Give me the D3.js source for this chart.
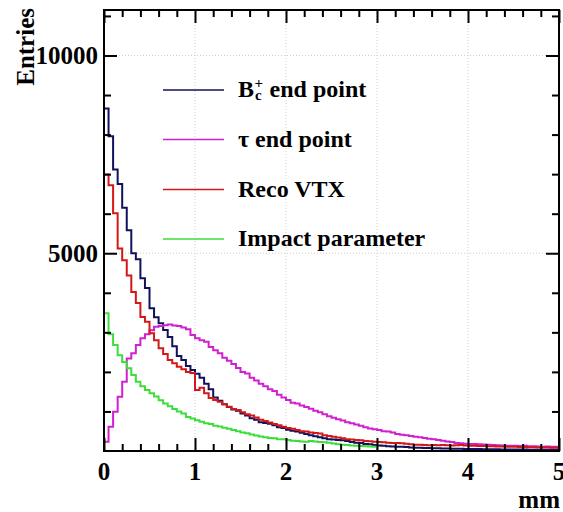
<!DOCTYPE html>
<html>
<head>
<meta charset="utf-8">
<script src="https://cdn.jsdelivr.net/npm/d3@7/dist/d3.min.js"></script>
<style>
  html, body { margin: 0; padding: 0; background: #fff; }
  svg { display: block; }
</style>
</head>
<body>
<svg id="chart" width="563" height="512"></svg>
<script>
// Histogram binning: 0.05 mm bins starting at 0
const binWidth = 0.05;

// Entries per bin
const bcEndPoint = [
  8660, 7960, 7120, 6750, 6150, 5580, 5000, 4850, 4370, 4120,
  3610, 3380, 3230, 3060, 2880, 2650, 2400, 2300, 2150, 2050,
  1950, 1850, 1700, 1560, 1350, 1270, 1180, 1110, 1050, 1020,
  950, 900, 830, 790, 730, 710, 690, 650, 600, 580,
  540, 510, 490, 460, 430, 400, 370, 350, 320, 300,
  290, 280, 270, 250, 230, 210, 200, 180, 170, 150,
  140, 130, 120, 115, 110, 105, 100, 90, 85, 80,
  78, 75, 70, 68, 65, 62, 60, 58, 55, 52,
  50, 50, 48, 46, 45, 44, 42, 40, 40, 38,
  37, 36, 35, 34, 33, 32, 31, 30, 30, 29
];

const tauEndPoint = [
  235, 610, 990, 1370, 1750, 2340, 2470, 2680, 2850, 2950,
  3055, 3140, 3160, 3180, 3200, 3170, 3160, 3120, 3080, 2930,
  2850, 2800, 2760, 2630, 2550, 2470, 2360, 2280, 2200, 2100,
  2000, 1960, 1850, 1780, 1700, 1640, 1560, 1520, 1420, 1350,
  1290, 1220, 1200, 1150, 1110, 1070, 1020, 980, 930, 880,
  840, 800, 770, 730, 700, 670, 640, 600, 570, 550,
  530, 500, 490, 470, 430, 410, 400, 380, 360, 350,
  330, 310, 295, 280, 260, 240, 230, 200, 195, 185,
  180, 175, 170, 165, 160, 150, 145, 140, 135, 135,
  130, 125, 130, 120, 118, 115, 110, 112, 108, 105
];

const recoVtx = [
  6990, 6720, 6010, 5120, 4820, 4440, 4020, 3740, 3390, 3265,
  2980, 2800, 2600, 2450, 2300, 2220, 2130, 2070, 2000, 1970,
  1540, 1600, 1460, 1340, 1290, 1245, 1180, 1120, 1060, 1035,
  980, 930, 900, 850, 790, 760, 720, 680, 650, 610,
  580, 560, 530, 500, 490, 470, 455, 440, 400, 380,
  360, 340, 320, 300, 290, 280, 270, 250, 245, 235,
  230, 220, 210, 200, 200, 195, 185, 170, 160, 155,
  150, 148, 152, 145, 150, 148, 140, 145, 150, 140,
  135, 130, 128, 125, 120, 118, 115, 112, 110, 108,
  105, 100, 100, 95, 92, 90, 88, 86, 85, 85
];

// Impact parameter histogram covers 0-3 mm only
const impactParameter = [
  3480, 2950, 2680, 2420, 2250, 2090, 1920, 1750, 1640, 1540,
  1460, 1380, 1280, 1200, 1130, 1060, 1000, 950, 860, 820,
  780, 740, 700, 680, 640, 620, 590, 560, 530, 500,
  470, 450, 420, 390, 365, 350, 330, 320, 300, 295,
  280, 260, 250, 240, 235, 250, 240, 230, 220, 210,
  190, 170, 160, 150, 140, 130, 125, 120, 115, 110
];

const seriesNames = ["B_c^+ end point", "\u03c4 end point", "Reco VTX", "Impact parameter"];
const seriesColors = ["#11115e", "#d020d0", "#d41818", "#3ddd3d"];
const seriesData = [bcEndPoint, tauEndPoint, recoVtx, impactParameter];

const xTickValues = [0, 1, 2, 3, 4, 5];
const xTickLabels = ["0", "1", "2", "3", "4", "5"];
const yTickValues = [5000, 10000];
const yTickLabels = ["5000", "10000"];
const xTitle = "mm";
const yTitle = "Entries";

const FONT = "'Liberation Serif', 'Times New Roman', Times, 'DejaVu Serif', serif";

const svg = d3.select("#chart");
const frame = { left: 104, right: 559, top: 10, bottom: 451 };

const x = d3.scaleLinear().domain([0, 5]).range([frame.left, frame.right]);
const y = d3.scaleLinear().domain([0, 11150]).range([frame.bottom, frame.top]);

function label(parent, size) {
  return parent.append("text")
    .style("font-family", FONT)
    .style("font-weight", "bold")
    .style("font-size", size + "px")
    .attr("fill", "#000");
}

// Grid lines (dotted)
const grid = svg.append("g").attr("class", "grid");
grid.selectAll("line.gx").data([1, 2, 3, 4]).enter().append("line")
  .attr("x1", d => x(d)).attr("x2", d => x(d))
  .attr("y1", frame.top).attr("y2", frame.bottom)
  .attr("stroke", "#cfcfcf").attr("stroke-width", 1).attr("stroke-dasharray", "1,2");
grid.selectAll("line.gy").data(yTickValues).enter().append("line")
  .attr("x1", frame.left).attr("x2", frame.right)
  .attr("y1", d => y(d)).attr("y2", d => y(d))
  .attr("stroke", "#cfcfcf").attr("stroke-width", 1).attr("stroke-dasharray", "1,2");

// Histogram outlines
const line = d3.line().x(d => x(d[0])).y(d => y(d[1])).curve(d3.curveStepAfter);
function histPoints(values) {
  const pts = [[0, 0]];
  values.forEach((v, i) => pts.push([i * binWidth, v]));
  const end = values.length * binWidth;
  pts.push([end, values[values.length - 1]]);
  pts.push([end, 0]);
  return pts;
}
const plot = svg.append("g").attr("class", "hists");
seriesData.forEach((vals, i) => {
  plot.append("path")
    .attr("d", line(histPoints(vals)))
    .attr("fill", "none")
    .attr("stroke", seriesColors[i])
    .attr("stroke-width", 2)
    .attr("stroke-linejoin", "miter");
});

// Axes: ticks inside the frame on all four sides
const minorX = d3.range(0, 5.0001, 0.2).map(v => +v.toFixed(2)).filter(v => !xTickValues.includes(v));
const minorY = d3.range(1000, 11001, 1000).filter(v => !yTickValues.includes(v));

function addAxis(axis, transform) {
  const g = svg.append("g").attr("transform", transform).call(axis);
  g.select(".domain").remove();
  g.selectAll(".tick line").attr("stroke", "#000").attr("stroke-width", 2);
  g.selectAll(".tick text").remove();
  return g;
}
addAxis(d3.axisBottom(x).tickValues(xTickValues).tickSize(-13).tickFormat(""), `translate(0,${frame.bottom})`);
addAxis(d3.axisBottom(x).tickValues(minorX).tickSize(-7).tickFormat(""), `translate(0,${frame.bottom})`);
addAxis(d3.axisTop(x).tickValues(xTickValues).tickSize(-13).tickFormat(""), `translate(0,${frame.top})`);
addAxis(d3.axisTop(x).tickValues(minorX).tickSize(-7).tickFormat(""), `translate(0,${frame.top})`);
addAxis(d3.axisLeft(y).tickValues(yTickValues).tickSize(-13).tickFormat(""), `translate(${frame.left},0)`);
addAxis(d3.axisLeft(y).tickValues(minorY).tickSize(-7).tickFormat(""), `translate(${frame.left},0)`);
addAxis(d3.axisRight(y).tickValues(yTickValues).tickSize(-13).tickFormat(""), `translate(${frame.right},0)`);
addAxis(d3.axisRight(y).tickValues(minorY).tickSize(-7).tickFormat(""), `translate(${frame.right},0)`);

// Frame
svg.append("rect")
  .attr("x", frame.left).attr("y", frame.top)
  .attr("width", frame.right - frame.left).attr("height", frame.bottom - frame.top)
  .attr("fill", "none").attr("stroke", "#000").attr("stroke-width", 2);

// Tick labels
xTickValues.forEach((v, i) => {
  label(svg, 25).attr("x", x(v)).attr("y", 480).attr("text-anchor", "middle").text(xTickLabels[i]);
});
yTickValues.forEach((v, i) => {
  label(svg, 25).attr("x", 98).attr("y", y(v) + 8.5).attr("text-anchor", "end").text(yTickLabels[i]);
});

// Axis titles
label(svg, 25).attr("x", 560).attr("y", 508).attr("text-anchor", "end").text(xTitle);
label(svg, 25).attr("transform", "translate(33.5,8) rotate(-90)").attr("text-anchor", "end").text(yTitle);

// Legend
const legendRows = [90, 139.5, 189.5, 239];
const legend = svg.append("g").attr("class", "legend");
seriesNames.forEach((name, i) => {
  const ly = legendRows[i];
  legend.append("line")
    .attr("x1", 163).attr("x2", 224).attr("y1", ly).attr("y2", ly)
    .attr("stroke", seriesColors[i]).attr("stroke-width", 1.6);
  const tx = 238, base = ly + 7;
  if (name.startsWith("B_c^+")) {
    const b = label(legend, 24).attr("x", tx).attr("y", base).text("B");
    const wb = b.node().getComputedTextLength();
    const sup = label(legend, 15).attr("x", tx + wb + 0.5).attr("y", base - 9).text("+");
    const sub = label(legend, 15).attr("x", tx + wb + 1).attr("y", base + 3).text("c");
    const ws = Math.max(sup.node().getComputedTextLength(), sub.node().getComputedTextLength());
    label(legend, 24).attr("x", tx + wb + ws + 7).attr("y", base)
      .text(name.replace("B_c^+", "").trim());
  } else {
    label(legend, 24).attr("x", tx).attr("y", base).text(name);
  }
});
</script>
</body>
</html>
